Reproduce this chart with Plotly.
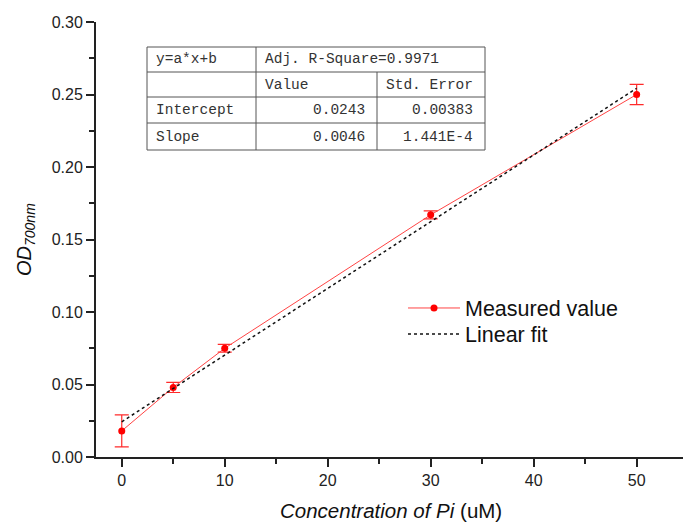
import plotly.graph_objects as go

# ---- data ----
conc = [0, 5, 10, 30, 50]
od_mean = [0.018, 0.048, 0.075, 0.167, 0.250]
od_err = [0.011, 0.0035, 0.0027, 0.0028, 0.007]

fit_x = [0, 50]
fit_y = [0.0243, 0.2543]

table_rows = [
    ["y=a*x+b", "Adj. R-Square=0.9971", ""],
    ["", "Value", "Std. Error"],
    ["Intercept", "0.0243", "0.00383"],
    ["Slope", "0.0046", "1.441E-4"],
]

x_ticks = [0, 10, 20, 30, 40, 50]
y_ticks = [0.00, 0.05, 0.10, 0.15, 0.20, 0.25, 0.30]

# ---- layout geometry (pixels) ----
W, H = 683, 523
L, R, T, B = 96, 0, 22, 66
PW, PH = W - L - R, H - T - B


def px(x):
    return (x - L) / PW


def py(y):
    return (H - B - y) / PH


fig = go.Figure()

fig.add_trace(go.Scatter(
    x=conc, y=od_mean, mode="lines+markers", name="Measured value",
    line=dict(color="#ff4444", width=1),
    marker=dict(color="#ff0000", size=7, symbol="circle"),
    error_y=dict(type="data", array=od_err, visible=True,
                 color="#ff2a2a", thickness=1.2, width=7),
    legend="legend",
))

fig.add_trace(go.Scatter(
    x=fit_x, y=fit_y, mode="lines", name="Linear fit",
    line=dict(color="#111111", width=1.5, dash="dot"),
    legend="legend2",
))

font_ax = "Liberation Sans, Arial, sans-serif"
leg_font = dict(family=font_ax, size=21.5, color="#111")

fig.update_layout(
    width=W, height=H,
    margin=dict(l=L, r=R, t=T, b=B, pad=0),
    paper_bgcolor="white", plot_bgcolor="white",
    showlegend=True,
    legend=dict(x=px(403), y=py(308), xanchor="left", yanchor="middle",
                font=leg_font, itemwidth=52, bgcolor="rgba(0,0,0,0)"),
    legend2=dict(x=px(403), y=py(334), xanchor="left", yanchor="middle",
                 font=leg_font, itemwidth=52, bgcolor="rgba(0,0,0,0)"),
    xaxis=dict(range=[-2.5, 54.5], tickvals=x_ticks,
               ticktext=[str(v) for v in x_ticks],
               showgrid=False, zeroline=False,
               showline=True, linecolor="#222", linewidth=2,
               ticks="outside", ticklen=8, tickwidth=1.5, tickcolor="#222",
               minor=dict(dtick=5, tick0=0, ticks="outside", ticklen=5,
                          tickwidth=1.5, tickcolor="#222", showgrid=False),
               tickfont=dict(family=font_ax, size=16, color="#222")),
    yaxis=dict(range=[0, 0.30], tickvals=y_ticks,
               ticktext=["%.2f" % v for v in y_ticks],
               showgrid=False, zeroline=False,
               showline=True, linecolor="#222", linewidth=2,
               ticks="outside", ticklen=8, tickwidth=1.5, tickcolor="#222",
               minor=dict(dtick=0.025, tick0=0, ticks="outside", ticklen=5,
                          tickwidth=1.5, tickcolor="#222", showgrid=False),
               tickfont=dict(family=font_ax, size=16, color="#222")),
)

# axis titles
fig.add_annotation(
    x=px(391), y=py(510), xref="paper", yref="paper",
    text="<i>Concentration of Pi</i> (uM)", showarrow=False,
    xanchor="center", yanchor="middle",
    font=dict(family=font_ax, size=20.5, color="#111"))
fig.add_annotation(
    x=px(26), y=py(240), xref="paper", yref="paper",
    text="<i>OD</i><sub><i>700nm</i></sub>", showarrow=False, textangle=-90,
    xanchor="center", yanchor="middle",
    font=dict(family=font_ax, size=20, color="#111"))

# ---- parameter table ----
col_edges = [147, 256, 377, 485]
row_edges = [47, 72, 97, 123, 150]
line_c = "#555"
shapes = []
shapes.append(dict(type="rect", xref="paper", yref="paper",
                   x0=px(col_edges[0]), x1=px(col_edges[3]),
                   y0=py(row_edges[0]), y1=py(row_edges[-1]),
                   line=dict(color=line_c, width=1), fillcolor="white",
                   layer="below"))
for ry in row_edges[1:-1]:
    shapes.append(dict(type="line", xref="paper", yref="paper",
                       x0=px(col_edges[0]), x1=px(col_edges[3]),
                       y0=py(ry), y1=py(ry), line=dict(color=line_c, width=1)))
shapes.append(dict(type="line", xref="paper", yref="paper",
                   x0=px(col_edges[1]), x1=px(col_edges[1]),
                   y0=py(row_edges[0]), y1=py(row_edges[-1]),
                   line=dict(color=line_c, width=1)))
shapes.append(dict(type="line", xref="paper", yref="paper",
                   x0=px(col_edges[2]), x1=px(col_edges[2]),
                   y0=py(row_edges[1]), y1=py(row_edges[-1]),
                   line=dict(color=line_c, width=1)))
fig.update_layout(shapes=shapes)

tfont = dict(family="Liberation Mono, Courier New, monospace", size=14.5,
             color="#333")
for i, row in enumerate(table_rows):
    yc = (row_edges[i] + row_edges[i + 1]) / 2
    for j, txt in enumerate(row):
        if not txt:
            continue
        if i >= 2 and j >= 1:
            xpos, anchor = col_edges[j + 1] - 10, "right"
        else:
            xpos, anchor = col_edges[j] + 7, "left"
        fig.add_annotation(x=px(xpos), y=py(yc), xref="paper", yref="paper",
                           text=txt, showarrow=False, xanchor=anchor,
                           yanchor="middle", font=tfont)

fig.write_html("out.html",
               config={"displayModeBar": False},
               post_script="document.body.style.margin='0';"
                           "document.body.style.overflow='hidden';")
